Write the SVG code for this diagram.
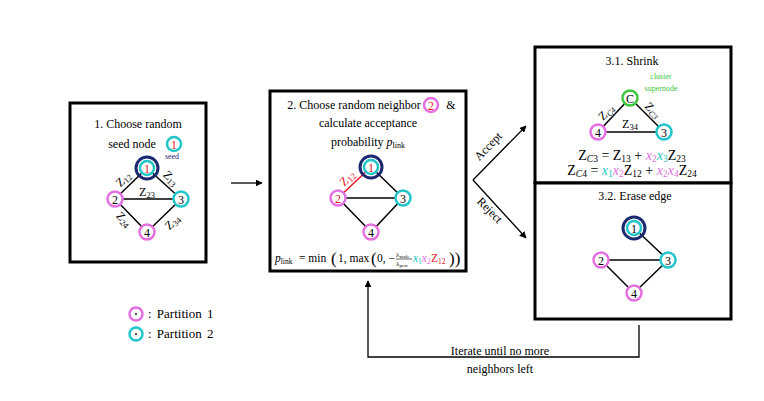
<svg xmlns="http://www.w3.org/2000/svg" width="764" height="401" viewBox="0 0 764 401">
<defs>
<marker id="ah" viewBox="0 0 10 10" refX="9" refY="5" markerWidth="7" markerHeight="7" markerUnits="userSpaceOnUse" orient="auto">
<path d="M0,0 L10,5 L0,10 z" fill="#000"/>
</marker>
<style>
text{font-family:"Liberation Serif","Times New Roman",serif;fill:#000}
.t{font-size:12px;text-anchor:middle}
.n{font-size:12px;text-anchor:middle;dominant-baseline:central}
.z{font-size:12px;text-anchor:middle}
.box{fill:#fff;stroke:#000;stroke-width:3}
.e{stroke:#000;stroke-width:1.5;fill:none}
.p{fill:#fff;stroke:#e36fe0;stroke-width:2.5}
.c{fill:#fff;stroke:#22c5c9;stroke-width:2.5}
.g{fill:#fff;stroke:#3cc83c;stroke-width:2.5}
.s{fill:none;stroke:#1c2870;stroke-width:3}
.red{fill:#e8141e}
.pk{fill:#e36fe0}
.cy{fill:#22c5c9}
.ln{stroke:#000;stroke-width:1.3;fill:none}
</style>
</defs>

<g id="connectors">
<line class="ln" x1="231" y1="183" x2="262" y2="183" marker-end="url(#ah)"/>
<line class="ln" x1="473" y1="180" x2="526" y2="126" marker-end="url(#ah)"/>
<line class="ln" x1="473" y1="180" x2="526" y2="238" marker-end="url(#ah)"/>
<text class="z" transform="translate(491,149) rotate(-46)">Accept</text>
<text class="z" transform="translate(487,213) rotate(46)">Reject</text>
<polyline class="ln" points="639,325 639,357 368,357 368,281" marker-end="url(#ah)"/>
<text class="t" x="500" y="355">Iterate until no more</text>
<text class="t" x="500" y="373">neighbors left</text>
</g>

<g id="step1">
<rect class="box" x="70" y="103" width="136" height="159"/>
<text class="t" x="138" y="128">1. Choose random</text>
<text class="t" x="132" y="148">seed node</text>
<circle class="c" cx="174" cy="144" r="7"/>
<text class="n red" x="174" y="144.5">1</text>
<line class="e" x1="147" y1="168" x2="115" y2="199"/>
<line class="e" x1="147" y1="168" x2="181" y2="199"/>
<line class="e" x1="115" y1="199" x2="181" y2="199"/>
<line class="e" x1="115" y1="199" x2="147" y2="232"/>
<line class="e" x1="181" y1="199" x2="147" y2="232"/>
<text class="z" transform="translate(126,182) rotate(-45)">Z<tspan font-size="8.5" dy="2">12</tspan></text>
<text class="z" transform="translate(168,181) rotate(45)">Z<tspan font-size="8.5" dy="2">13</tspan></text>
<text class="z" x="147" y="196">Z<tspan font-size="8.5" dy="2">23</tspan></text>
<text class="z" transform="translate(121,222) rotate(45)">Z<tspan font-size="8.5" dy="2">24</tspan></text>
<text class="z" transform="translate(175,225) rotate(-45)">Z<tspan font-size="8.5" dy="2">34</tspan></text>
<text x="172" y="159" font-size="8" style="fill:#1c2870" text-anchor="middle">seed</text>
<g id="s1n1"><circle class="s" cx="147" cy="168" r="11"/><circle class="c" cx="147" cy="168" r="7"/><text class="n red" x="147" y="168.5">1</text></g>
<g id="s1n2"><circle class="p" cx="115" cy="199" r="7.5"/><text class="n" x="115" y="199.5">2</text></g>
<g id="s1n3"><circle class="c" cx="181" cy="199" r="7.5"/><text class="n" x="181" y="199.5">3</text></g>
<g id="s1n4"><circle class="p" cx="147" cy="232" r="7.5"/><text class="n" x="147" y="232.5">4</text></g>
</g>

<g id="step2">
<rect class="box" x="270" y="91" width="196" height="180"/>
<text class="t" x="354" y="109">2. Choose random neighbor</text>
<circle class="p" cx="431" cy="105" r="7"/>
<text class="n red" x="431" y="105.5">2</text>
<text class="t" x="451" y="109">&amp;</text>
<text class="t" x="368" y="127">calculate acceptance</text>
<text class="t" x="368" y="146">probability <tspan font-style="italic">p</tspan><tspan font-size="8" dy="2">link</tspan></text>
<line x1="371" y1="167" x2="338" y2="198" stroke="#e8141e" stroke-width="1.5"/>
<line class="e" x1="371" y1="167" x2="403" y2="198"/>
<line class="e" x1="338" y1="198" x2="403" y2="198"/>
<line class="e" x1="338" y1="198" x2="371" y2="232"/>
<line class="e" x1="403" y1="198" x2="371" y2="232"/>
<text class="z red" font-size="13" transform="translate(350,181) rotate(-45)">Z<tspan font-size="9" dy="2">12</tspan></text>
<g id="s2n1"><circle class="s" cx="371" cy="167" r="11"/><circle class="c" cx="371" cy="167" r="7"/><text class="n red" x="371" y="167.5">1</text></g>
<g id="s2n2"><circle class="p" cx="338" cy="198" r="7.5"/><text class="n red" x="338" y="198.5">2</text></g>
<g id="s2n3"><circle class="c" cx="403" cy="198" r="7.5"/><text class="n" x="403" y="198.5">3</text></g>
<g id="s2n4"><circle class="p" cx="371" cy="232" r="7.5"/><text class="n" x="371" y="232.5">4</text></g>
<text x="275" y="262" font-size="11.5"><tspan font-style="italic">p</tspan><tspan font-size="7.5" dy="1.5">link</tspan><tspan dy="-1.5" x="299">= min</tspan><tspan font-size="17" dy="2" x="331">(</tspan><tspan dy="-2" x="338">1, max</tspan><tspan font-size="17" dy="2" x="371">(</tspan><tspan dy="-2" x="377">0, −</tspan></text>
<text x="396" y="257" font-size="7">λ<tspan font-size="5" dy="1">scale</tspan></text>
<line x1="396" y1="259" x2="412" y2="259" stroke="#000" stroke-width="0.6"/>
<text x="396" y="266" font-size="7">λ<tspan font-size="5" dy="1">perc</tspan></text>
<text x="413" y="262" font-size="11.5"><tspan class="cy" font-style="italic">x</tspan><tspan class="cy" font-size="7.5" dy="1.5">1</tspan><tspan class="pk" font-style="italic" dy="-1.5">x</tspan><tspan class="pk" font-size="7.5" dy="1.5">2</tspan><tspan class="red" dy="-1.5" x="431">Z</tspan><tspan class="red" font-size="7.5" dy="1.5">12</tspan><tspan font-size="17" dy="0.5" x="449">))</tspan></text>
</g>

<g id="step31">
<rect class="box" x="535" y="47" width="196" height="136"/>
<text class="t" x="632" y="65">3.1. Shrink</text>
<text x="661" y="79" font-size="8" text-anchor="middle" style="fill:#3cc83c">cluster</text>
<text x="661" y="91" font-size="8" text-anchor="middle" style="fill:#3cc83c">supernode</text>
<line class="e" x1="630" y1="98" x2="598" y2="132"/>
<line class="e" x1="630" y1="98" x2="664" y2="132"/>
<line class="e" x1="598" y1="132" x2="664" y2="132"/>
<text class="z" transform="translate(609,115) rotate(-45)">Z<tspan font-size="8" font-style="italic" dy="2">C4</tspan></text>
<text class="z" transform="translate(650,113) rotate(45)">Z<tspan font-size="8" font-style="italic" dy="2">C3</tspan></text>
<text class="z" x="630" y="128">Z<tspan font-size="8.5" dy="2">34</tspan></text>
<g id="nC"><circle class="g" cx="630" cy="98" r="7.5"/><text class="n" x="630" y="98.5">C</text></g>
<g id="s31n4"><circle class="p" cx="598" cy="132" r="7.5"/><text class="n" x="598" y="132.5">4</text></g>
<g id="s31n3"><circle class="c" cx="664" cy="132" r="7.5"/><text class="n" x="664" y="132.5">3</text></g>
<text x="632" y="160" font-size="14" text-anchor="middle">Z<tspan font-size="9.5" font-style="italic" dy="2">C</tspan><tspan font-size="9.5">3</tspan><tspan dy="-2"> = Z</tspan><tspan font-size="9.5" dy="2">13</tspan><tspan dy="-2"> + </tspan><tspan class="pk" font-style="italic">x</tspan><tspan class="pk" font-size="9.5" dy="2">2</tspan><tspan class="cy" font-style="italic" dy="-2">x</tspan><tspan class="cy" font-size="9.5" dy="2">3</tspan><tspan dy="-2">Z</tspan><tspan font-size="9.5" dy="2">23</tspan></text>
<text x="632" y="175" font-size="14" text-anchor="middle">Z<tspan font-size="9.5" font-style="italic" dy="2">C</tspan><tspan font-size="9.5">4</tspan><tspan dy="-2"> = </tspan><tspan class="cy" font-style="italic">x</tspan><tspan class="cy" font-size="9.5" dy="2">1</tspan><tspan class="pk" font-style="italic" dy="-2">x</tspan><tspan class="pk" font-size="9.5" dy="2">2</tspan><tspan dy="-2">Z</tspan><tspan font-size="9.5" dy="2">12</tspan><tspan dy="-2"> + </tspan><tspan class="pk" font-style="italic">x</tspan><tspan class="pk" font-size="9.5" dy="2">2</tspan><tspan class="pk" font-style="italic" dy="-2">x</tspan><tspan class="pk" font-size="9.5" dy="2">4</tspan><tspan dy="-2">Z</tspan><tspan font-size="9.5" dy="2">24</tspan></text>
</g>

<g id="step32">
<rect class="box" x="535" y="183" width="196" height="136"/>
<text class="t" x="635" y="200">3.2. Erase edge</text>
<line class="e" x1="634" y1="228" x2="668" y2="260"/>
<line class="e" x1="601" y1="260" x2="668" y2="260"/>
<line class="e" x1="601" y1="260" x2="634" y2="293"/>
<line class="e" x1="668" y1="260" x2="634" y2="293"/>
<g id="s32n1"><circle class="s" cx="634" cy="228" r="11"/><circle class="c" cx="634" cy="228" r="7"/><text class="n" x="634" y="228.5">1</text></g>
<g id="s32n2"><circle class="p" cx="601" cy="260" r="7.5"/><text class="n" x="601" y="260.5">2</text></g>
<g id="s32n3"><circle class="c" cx="668" cy="260" r="7.5"/><text class="n" x="668" y="260.5">3</text></g>
<g id="s32n4"><circle class="p" cx="634" cy="293" r="7.5"/><text class="n" x="634" y="293.5">4</text></g>
</g>

<g id="legend">
<circle class="p" cx="136" cy="314" r="6.5"/>
<circle cx="136" cy="314" r="0.9" fill="#000"/>
<text x="148" y="318" font-size="13" word-spacing="2">: Partition 1</text>
<circle class="c" cx="136" cy="334" r="6.5"/>
<circle cx="136" cy="334" r="0.9" fill="#000"/>
<text x="148" y="338" font-size="13" word-spacing="2">: Partition 2</text>
</g>
</svg>
